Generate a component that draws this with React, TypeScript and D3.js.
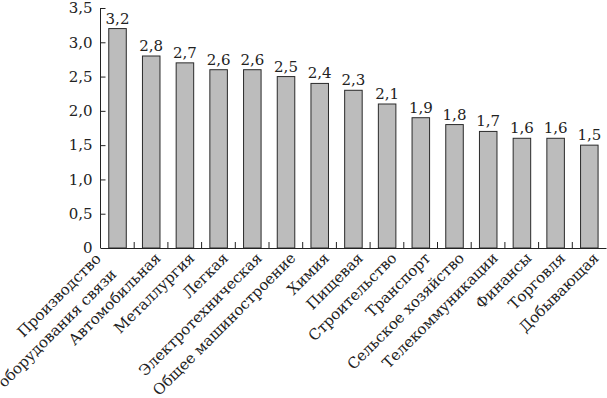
import * as d3 from "d3";
import React, { useEffect, useRef } from "react";

const categories = [
    ["Производство", "оборудования связи"],
    ["Автомобильная"],
    ["Металлургия"],
    ["Легкая"],
    ["Электротехническая"],
    ["Общее машиностроение"],
    ["Химия"],
    ["Пищевая"],
    ["Строительство"],
    ["Транспорт"],
    ["Сельское хозяйство"],
    ["Телекоммуникации"],
    ["Финансы"],
    ["Торговля"],
    ["Добывающая"],
];
const values = [3.2, 2.8, 2.7, 2.6, 2.6, 2.5, 2.4, 2.3, 2.1, 1.9, 1.8, 1.7, 1.6, 1.6, 1.5];
const yTicks = [0, 0.5, 1, 1.5, 2, 2.5, 3, 3.5];

const width = 607;
const height = 398;
const fontFamily = "'DejaVu Serif', serif";

const fmt = (v: number) => (v === 0 ? "0" : d3.format(".1f")(v).replace(".", ","));

const BarChart = () => {
    const svgRef = useRef<SVGSVGElement | null>(null);

    useEffect(() => {
        const svg = d3.select(svgRef.current);
        svg.selectAll("*").remove();

        const keys = categories.map((c, i) => String(i));
        const xScale = d3.scaleBand().domain(keys).range([100.5, 606]).padding(0);
        const yScale = d3.scaleLinear().domain([0, 3.5]).range([248, 8]);
        const step = xScale.bandwidth();
        const barOffset = step * 0.245;
        const barWidth = step * 0.52;

        // bars
        svg.selectAll("rect.bar")
            .data(values)
            .enter()
            .append("rect")
            .attr("class", "bar")
            .attr("x", (d, i) => (xScale(String(i)) as number) + barOffset)
            .attr("y", (d) => yScale(d))
            .attr("width", barWidth)
            .attr("height", (d) => yScale(0) - yScale(d))
            .attr("fill", "#bcbcbc")
            .attr("stroke", "#2a2a2a")
            .attr("stroke-width", 1);

        // value labels
        svg.selectAll("text.val")
            .data(values)
            .enter()
            .append("text")
            .attr("class", "val")
            .attr("x", (d, i) => (xScale(String(i)) as number) + barOffset + barWidth / 2)
            .attr("y", (d) => yScale(d) - 5)
            .attr("text-anchor", "middle")
            .style("font", `15px ${fontFamily}`)
            .attr("fill", "#222")
            .text((d) => fmt(d));

        // y axis
        const yAxis = d3.axisLeft(yScale)
            .tickValues(yTicks)
            .tickSize(-5)
            .tickPadding(8)
            .tickFormat((d) => fmt(d as number));
        const yG = svg.append("g")
            .attr("transform", "translate(100.5,0)")
            .call(yAxis);
        yG.select(".domain").attr("stroke", "#222").attr("d", `M0,${yScale(3.5)}V${yScale(0)}`);
        yG.selectAll("line").attr("stroke", "#222");
        yG.selectAll("text")
            .attr("fill", "#222")
            .style("font", `15px ${fontFamily}`);

        // x axis
        const xAxis = d3.axisBottom(xScale)
            .tickSize(0)
            .tickFormat(() => "");
        const xG = svg.append("g")
            .attr("transform", `translate(0,${yScale(0)})`)
            .call(xAxis);
        xG.select(".domain").attr("stroke", "#222");
        xG.selectAll(".tick").remove();

        // boundary ticks between categories
        svg.selectAll("line.sep")
            .data(keys.slice(1))
            .enter()
            .append("line")
            .attr("class", "sep")
            .attr("x1", (k) => xScale(k) as number)
            .attr("x2", (k) => xScale(k) as number)
            .attr("y1", yScale(0))
            .attr("y2", yScale(0) - 6)
            .attr("stroke", "#222");

        // category labels
        const labels = svg.selectAll("text.cat")
            .data(categories)
            .enter()
            .append("text")
            .attr("class", "cat")
            .attr("text-anchor", "end")
            .attr("transform", (d, i) =>
                `translate(${(xScale(String(i)) as number) + barOffset + barWidth / 2 + 10.5},${yScale(0) + 11}) rotate(-45)`)
            .style("font", `15px ${fontFamily}`)
            .attr("fill", "#222");

        labels.each(function (d) {
            const t = d3.select(this);
            if (d.length === 1) {
                t.text(d[0]);
            } else {
                t.append("tspan").attr("x", -19).attr("y", -18).text(d[0]);
                t.append("tspan").attr("x", -19).attr("y", 4).text(d[1]);
            }
        });
    }, []);

    return <svg ref={svgRef} width={width} height={height} />;
};

export default function App() {
    return (
        <div style={{ position: "absolute", left: 0, top: 0 }}>
            <BarChart />
        </div>
    );
}
